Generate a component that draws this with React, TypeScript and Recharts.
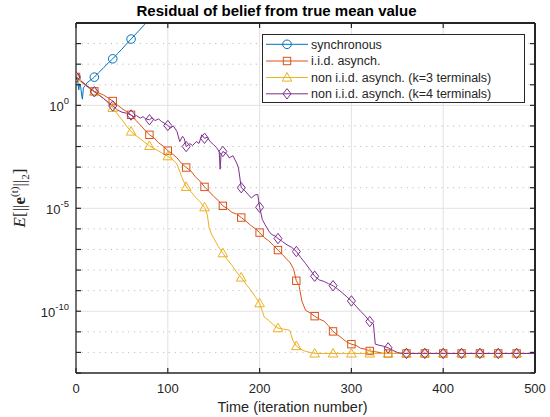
import { Line, LineChart, ReferenceLine, XAxis, YAxis } from "recharts";

// time ticks and y decades (exponents of 10)
const X_TICKS = [0, 100, 200, 300, 400, 500];
const Y_DECADES = [-13, -12, -11, -10, -9, -8, -7, -6, -5, -4, -3, -2, -1, 0, 1, 2, 3, 4];
const Y_MAJOR = [-10, -5, 0];

// [iteration, log10 of residual]
const synchronous: [number, number][] = [
  [0, 1.35], [2, 1.15], [3, 0.75], [4, 1.05], [5, 0.95], [6, 0.55], [7, 0.3], [8, 0.85],
  [10, 0.95], [12, 1.1], [15, 1.2], [18, 1.3], [20, 1.37], [25, 1.6], [30, 1.83], [35, 2.05],
  [40, 2.26], [45, 2.5], [50, 2.73], [55, 2.98], [60, 3.22], [65, 3.46], [70, 3.7], [75, 3.94],
  [80, 4.17],
];

const iidAsync: [number, number][] = [
  [0, 1.38], [5, 1.2], [10, 1.03], [15, 0.85], [20, 0.68], [25, 0.6], [30, 0.5], [35, 0.36],
  [40, 0.21], [45, 0.02], [50, -0.15], [55, -0.3], [60, -0.46], [65, -0.72], [70, -0.95],
  [75, -1.2], [80, -1.43], [85, -1.58], [90, -1.82], [95, -1.98], [100, -2.2], [105, -2.36],
  [110, -2.55], [115, -2.82], [120, -3.02], [125, -3.18], [130, -3.47], [135, -3.68],
  [140, -3.96], [145, -4.18], [150, -4.42], [155, -4.62], [160, -4.88], [165, -5.02],
  [170, -5.2], [175, -5.28], [180, -5.45], [185, -5.62], [190, -5.82], [195, -5.98],
  [200, -6.18], [205, -6.42], [210, -6.58], [215, -6.8], [220, -7.03], [225, -7.25],
  [230, -7.5], [233, -7.62], [237, -7.95], [240, -8.52], [243, -8.75], [246, -9.5],
  [250, -9.95], [255, -10.08], [260, -10.24], [265, -10.38], [270, -10.48], [275, -10.7],
  [280, -10.98], [285, -11.15], [290, -11.32], [295, -11.5], [300, -11.6], [305, -11.66],
  [310, -11.8], [315, -11.84], [320, -11.93], [325, -11.96], [330, -12.0], [335, -12.05],
  [340, -12.05], [360, -12.05], [380, -12.05], [400, -12.05], [420, -12.05], [440, -12.05],
  [460, -12.05], [480, -12.05], [500, -12.05],
];

const nonIidK3: [number, number][] = [
  [0, 1.38], [5, 1.15], [10, 0.98], [15, 0.8], [20, 0.66], [25, 0.52], [30, 0.35], [35, 0.13],
  [40, -0.12], [45, -0.42], [50, -0.7], [55, -1.0], [60, -1.27], [65, -1.46], [70, -1.62],
  [75, -1.8], [80, -1.97], [85, -2.1], [90, -2.22], [95, -2.35], [100, -2.47], [105, -2.62],
  [110, -2.85], [115, -3.45], [120, -3.96], [125, -4.18], [130, -4.45], [135, -4.68],
  [140, -4.95], [143, -5.3], [145, -5.95], [148, -6.3], [150, -6.45], [155, -6.85],
  [160, -7.18], [165, -7.5], [170, -7.78], [175, -8.1], [180, -8.36], [185, -8.68],
  [190, -8.95], [195, -9.28], [200, -9.61], [203, -10.0], [205, -10.28], [210, -10.45],
  [215, -10.66], [220, -10.82], [225, -10.86], [230, -10.9], [233, -10.94], [236, -11.4],
  [240, -11.69], [245, -11.85], [250, -11.95], [255, -12.0], [260, -12.05], [280, -12.05],
  [300, -12.05], [320, -12.05], [340, -12.05], [360, -12.05], [380, -12.05], [400, -12.05],
  [420, -12.05], [440, -12.05], [460, -12.05], [480, -12.05], [500, -12.05],
];

const nonIidK4: [number, number][] = [
  [0, 1.38], [5, 1.2], [10, 1.0], [15, 0.83], [20, 0.66], [25, 0.5], [30, 0.33], [35, 0.15],
  [40, -0.03], [45, -0.22], [50, -0.33], [55, -0.38], [60, -0.47], [63, -0.55], [66, -0.5],
  [70, -0.62], [73, -0.55], [76, -0.66], [80, -0.7], [83, -0.6], [86, -0.74], [90, -0.66],
  [93, -0.78], [96, -0.86], [100, -0.98], [103, -1.1], [106, -1.0], [110, -1.27], [113, -1.76],
  [116, -1.5], [118, -1.62], [120, -2.0], [124, -1.86], [127, -1.95], [131, -1.76],
  [134, -1.85], [137, -1.43], [140, -1.6], [143, -1.55], [146, -1.75], [150, -1.92],
  [153, -2.05], [156, -2.25], [157, -3.1], [158, -2.4], [160, -2.24], [164, -2.35],
  [167, -2.55], [171, -2.45], [175, -2.8], [177, -3.04], [180, -4.0], [184, -4.15],
  [188, -4.35], [191, -4.5], [195, -4.35], [198, -4.33], [200, -4.95], [203, -5.55],
  [206, -5.8], [210, -6.1], [213, -6.27], [217, -6.35], [220, -6.47], [225, -6.62],
  [230, -6.78], [235, -6.9], [240, -7.1], [245, -7.4], [250, -7.68], [255, -7.98], [260, -8.3],
  [265, -8.48], [270, -8.55], [275, -8.66], [280, -8.76], [285, -8.92], [290, -9.1],
  [295, -9.3], [300, -9.5], [305, -9.75], [310, -10.0], [315, -10.22], [320, -10.5],
  [324, -10.62], [326, -11.6], [330, -11.65], [335, -11.7], [340, -11.78], [345, -11.9],
  [350, -12.0], [355, -12.05], [360, -12.05], [380, -12.05], [400, -12.05], [420, -12.05],
  [440, -12.05], [460, -12.05], [480, -12.05], [500, -12.05],
];

const W = 550;
const H = 417;
const LEFT = 76;
const RIGHT = 535;
const TOP = 23;
const BOTTOM = 373;
const Y_MIN = 1e-13;
const Y_MAX = 1e4;
const AX = "#262626";
const FONT = '"Liberation Sans", Arial, Helvetica, sans-serif';

type Shape = "circle" | "square" | "triangle" | "diamond";

const series = [
  { name: "synchronous", color: "#0072BD", shape: "circle" as Shape, data: synchronous },
  { name: "i.i.d. asynch.", color: "#D95319", shape: "square" as Shape, data: iidAsync },
  { name: "non i.i.d. asynch. (k=3 terminals)", color: "#EDB120", shape: "triangle" as Shape, data: nonIidK3 },
  { name: "non i.i.d. asynch. (k=4 terminals)", color: "#7E2F8E", shape: "diamond" as Shape, data: nonIidK4 },
];

const toPoints = (s: [number, number][]) => s.map(([t, e]) => ({ t, v: Math.pow(10, e) }));

function Marker({ cx, cy, shape, color }: { cx: number; cy: number; shape: Shape; color: string }) {
  const common = { fill: "none", stroke: color, strokeWidth: 1 };
  if (shape === "circle") return <circle cx={cx} cy={cy} r={4.3} {...common} />;
  if (shape === "square") return <rect x={cx - 3.7} y={cy - 3.7} width={7.4} height={7.4} {...common} />;
  if (shape === "triangle")
    return <polygon points={`${cx},${cy - 5} ${cx + 4.8},${cy + 3.6} ${cx - 4.8},${cy + 3.6}`} {...common} />;
  return <polygon points={`${cx},${cy - 5.2} ${cx + 4},${cy} ${cx},${cy + 5.2} ${cx - 4},${cy}`} {...common} />;
}

// markers every 20 iterations, as in the figure
const dotFor = (shape: Shape, color: string) => (p: any) => {
  const { cx, cy, payload, index } = p;
  if (cx == null || cy == null || payload.t % 20 !== 0 || payload.t >= 500 || payload.v > Y_MAX)
    return <g key={`d${index}`} />;
  return (
    <g key={`d${index}`}>
      <Marker cx={cx} cy={cy} shape={shape} color={color} />
    </g>
  );
};

// x ticks also carry the top and right edges of the axes box
function XTick(props: any) {
  const { x, payload } = props;
  return (
    <g>
      <line x1={x} x2={x} y1={BOTTOM} y2={BOTTOM - 5} stroke={AX} strokeWidth={1.2} />
      <line x1={x} x2={x} y1={TOP} y2={TOP + 5} stroke={AX} strokeWidth={1.2} />
      {payload.value === 0 && <line x1={LEFT} x2={RIGHT} y1={TOP} y2={TOP} stroke={AX} strokeWidth={2} />}
      {payload.value === 500 && (
        <line x1={RIGHT} x2={RIGHT} y1={TOP} y2={BOTTOM} stroke={AX} strokeWidth={2} />
      )}
      <text x={x} y={BOTTOM + 20} textAnchor="middle" fontSize={13} fill={AX} fontFamily={FONT}>
        {payload.value}
      </text>
    </g>
  );
}

function YTick(props: any) {
  const { y, payload } = props;
  const e = Math.round(Math.log10(payload.value));
  return (
    <g>
      <line x1={LEFT} x2={LEFT + 5} y1={y} y2={y} stroke={AX} strokeWidth={1.2} />
      <line x1={RIGHT} x2={RIGHT - 5} y1={y} y2={y} stroke={AX} strokeWidth={1.2} />
      {Y_MAJOR.includes(e) && (
        <text x={LEFT - 7} y={y + 6} textAnchor="end" fontSize={13} fill={AX} fontFamily={FONT}>
          10
          <tspan dy={-7} fontSize={9.5}>
            {e}
          </tspan>
        </text>
      )}
    </g>
  );
}

function YLabel() {
  const x = 25;
  const y = 198;
  return (
    <text
      x={x}
      y={y}
      transform={`rotate(-90 ${x} ${y})`}
      textAnchor="middle"
      fontSize={17}
      fill={AX}
      fontFamily='"Liberation Serif", "Times New Roman", serif'
    >
      <tspan fontStyle="italic">E</tspan>
      <tspan>[||</tspan>
      <tspan fontWeight="bold">e</tspan>
      <tspan dy={-7} fontSize={11}>
        (t)
      </tspan>
      <tspan dy={7}>||</tspan>
      <tspan dy={4} fontSize={11}>
        2
      </tspan>
      <tspan dy={-4}>]</tspan>
    </text>
  );
}

function LegendBox() {
  const rowY = [10.3, 27, 43.5, 59.8];
  return (
    <svg width={263} height={69} style={{ display: "block" }}>
      <rect x={0.5} y={0.5} width={262} height={68} fill="#fff" stroke={AX} strokeWidth={1} />
      {series.map((s, i) => (
        <g key={s.name}>
          <line x1={4} x2={46} y1={rowY[i]} y2={rowY[i]} stroke={s.color} strokeWidth={1} />
          <Marker cx={25} cy={rowY[i]} shape={s.shape} color={s.color} />
          <text x={49} y={rowY[i] + 4.4} fontSize={12.5} fill={AX} fontFamily={FONT}>
            {s.name}
          </text>
        </g>
      ))}
    </svg>
  );
}

export default function App() {
  return (
    <div
      style={{
        position: "absolute",
        left: 0,
        top: 0,
        width: W,
        height: H,
        background: "#fff",
        fontFamily: FONT,
      }}
    >
      <LineChart width={W} height={H} margin={{ top: TOP, right: W - RIGHT, bottom: 0, left: 0 }}>
        <XAxis
          type="number"
          dataKey="t"
          domain={[0, 500]}
          ticks={X_TICKS}
          interval={0}
          allowDataOverflow
          height={H - BOTTOM}
          tickLine={false}
          axisLine={{ stroke: AX, strokeWidth: 1.3 }}
          tick={<XTick />}
          label={{
            content: () => (
              <text x={292.5} y={412} textAnchor="middle" fontSize={14.5} fill={AX} fontFamily={FONT}>
                Time (iteration number)
              </text>
            ),
          }}
        />
        <YAxis
          type="number"
          dataKey="v"
          scale="log"
          domain={[Y_MIN, Y_MAX]}
          ticks={Y_DECADES.map((e) => Math.pow(10, e))}
          interval={0}
          allowDataOverflow
          width={LEFT}
          tickLine={false}
          axisLine={{ stroke: AX, strokeWidth: 1.3 }}
          tick={<YTick />}
          label={{ content: () => <YLabel /> }}
        />
        {X_TICKS.filter((t) => t > 0 && t < 500).map((t) => (
          <ReferenceLine key={`vx${t}`} x={t} stroke="#e2e2e2" strokeWidth={1} />
        ))}
        {Y_DECADES.filter((e) => e > -13 && e < 4).map((e) => (
          <ReferenceLine
            key={`hy${e}`}
            y={Math.pow(10, e)}
            stroke={Y_MAJOR.includes(e) ? "#e2e2e2" : "#bdbdbd"}
            strokeWidth={1}
            strokeDasharray={Y_MAJOR.includes(e) ? undefined : "1.2 4.6"}
          />
        ))}
        {series.map((s) => (
          <Line
            key={s.name}
            name={s.name}
            data={toPoints(s.data)}
            dataKey="v"
            type="linear"
            stroke={s.color}
            strokeWidth={1}
            dot={dotFor(s.shape, s.color)}
            activeDot={false}
            isAnimationActive={false}
          />
        ))}
      </LineChart>
      <div
        style={{
          position: "absolute",
          left: 0,
          top: 3,
          width: 553,
          textAlign: "center",
          fontSize: 15,
          lineHeight: "15px",
          fontWeight: "bold",
          color: "#000",
        }}
      >
        Residual of belief from true mean value
      </div>
      <div style={{ position: "absolute", left: 262, top: 34 }}>
        <LegendBox />
      </div>
    </div>
  );
}
